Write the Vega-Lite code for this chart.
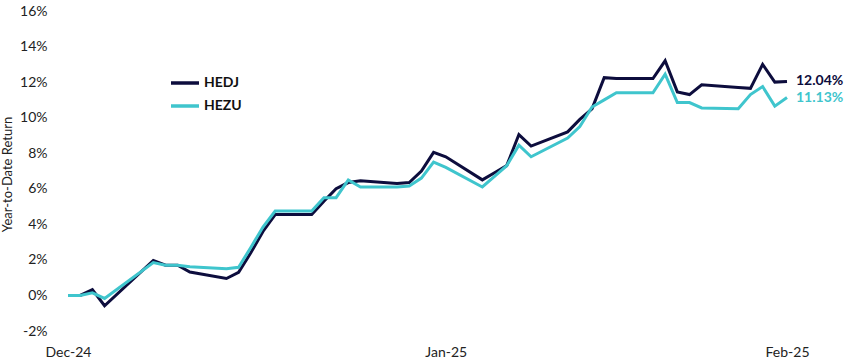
{
  "$schema": "https://vega.github.io/schema/vega-lite/v6.json",
  "width": 719,
  "height": 320,
  "autosize": {"type": "none"},
  "padding": {"left": 68, "top": 11, "right": 62, "bottom": 32},
  "background": "white",
  "config": {
    "view": {"stroke": null},
    "font": "Lato",
    "axis": {"labelFont": "Lato", "titleFont": "Lato", "labelColor": "#222222", "titleColor": "#222222"}
  },
  "data": {
    "values": [
      {"date": "2024-12-31T00:00", "fund": "HEDJ", "ret": 0.0},
      {"date": "2025-01-01T00:00", "fund": "HEDJ", "ret": 0.0},
      {"date": "2025-01-02T00:00", "fund": "HEDJ", "ret": 0.0033},
      {"date": "2025-01-03T00:00", "fund": "HEDJ", "ret": -0.0058},
      {"date": "2025-01-07T00:00", "fund": "HEDJ", "ret": 0.0197},
      {"date": "2025-01-08T00:00", "fund": "HEDJ", "ret": 0.0170},
      {"date": "2025-01-09T00:00", "fund": "HEDJ", "ret": 0.0170},
      {"date": "2025-01-10T00:00", "fund": "HEDJ", "ret": 0.0132},
      {"date": "2025-01-13T00:00", "fund": "HEDJ", "ret": 0.0095},
      {"date": "2025-01-14T00:00", "fund": "HEDJ", "ret": 0.0130},
      {"date": "2025-01-15T00:00", "fund": "HEDJ", "ret": 0.0240},
      {"date": "2025-01-16T00:00", "fund": "HEDJ", "ret": 0.0360},
      {"date": "2025-01-17T00:00", "fund": "HEDJ", "ret": 0.0455},
      {"date": "2025-01-20T00:00", "fund": "HEDJ", "ret": 0.0455},
      {"date": "2025-01-21T00:00", "fund": "HEDJ", "ret": 0.0530},
      {"date": "2025-01-22T00:00", "fund": "HEDJ", "ret": 0.0600},
      {"date": "2025-01-23T00:00", "fund": "HEDJ", "ret": 0.0635},
      {"date": "2025-01-24T00:00", "fund": "HEDJ", "ret": 0.0645},
      {"date": "2025-01-27T00:00", "fund": "HEDJ", "ret": 0.0630},
      {"date": "2025-01-28T00:00", "fund": "HEDJ", "ret": 0.0635},
      {"date": "2025-01-29T00:00", "fund": "HEDJ", "ret": 0.0700},
      {"date": "2025-01-30T00:00", "fund": "HEDJ", "ret": 0.0805},
      {"date": "2025-01-31T00:00", "fund": "HEDJ", "ret": 0.0780},
      {"date": "2025-02-03T00:00", "fund": "HEDJ", "ret": 0.0650},
      {"date": "2025-02-04T00:00", "fund": "HEDJ", "ret": 0.0690},
      {"date": "2025-02-05T00:00", "fund": "HEDJ", "ret": 0.0730},
      {"date": "2025-02-06T00:00", "fund": "HEDJ", "ret": 0.0905},
      {"date": "2025-02-07T00:00", "fund": "HEDJ", "ret": 0.0840},
      {"date": "2025-02-10T00:00", "fund": "HEDJ", "ret": 0.0920},
      {"date": "2025-02-11T00:00", "fund": "HEDJ", "ret": 0.0990},
      {"date": "2025-02-12T00:00", "fund": "HEDJ", "ret": 0.1050},
      {"date": "2025-02-13T00:00", "fund": "HEDJ", "ret": 0.1225},
      {"date": "2025-02-14T00:00", "fund": "HEDJ", "ret": 0.1220},
      {"date": "2025-02-17T00:00", "fund": "HEDJ", "ret": 0.1220},
      {"date": "2025-02-18T00:00", "fund": "HEDJ", "ret": 0.1320},
      {"date": "2025-02-19T00:00", "fund": "HEDJ", "ret": 0.1145},
      {"date": "2025-02-20T00:00", "fund": "HEDJ", "ret": 0.1130},
      {"date": "2025-02-21T00:00", "fund": "HEDJ", "ret": 0.1185},
      {"date": "2025-02-24T00:00", "fund": "HEDJ", "ret": 0.1170},
      {"date": "2025-02-25T00:00", "fund": "HEDJ", "ret": 0.1165},
      {"date": "2025-02-26T00:00", "fund": "HEDJ", "ret": 0.1300},
      {"date": "2025-02-27T00:00", "fund": "HEDJ", "ret": 0.1200},
      {"date": "2025-02-28T00:00", "fund": "HEDJ", "ret": 0.1204},
      {"date": "2024-12-31T00:00", "fund": "HEZU", "ret": 0.0},
      {"date": "2025-01-01T00:00", "fund": "HEZU", "ret": 0.0},
      {"date": "2025-01-02T00:00", "fund": "HEZU", "ret": 0.0015},
      {"date": "2025-01-03T00:00", "fund": "HEZU", "ret": -0.0017},
      {"date": "2025-01-07T00:00", "fund": "HEZU", "ret": 0.0185},
      {"date": "2025-01-08T00:00", "fund": "HEZU", "ret": 0.0170},
      {"date": "2025-01-09T00:00", "fund": "HEZU", "ret": 0.0170},
      {"date": "2025-01-10T00:00", "fund": "HEZU", "ret": 0.0162},
      {"date": "2025-01-13T00:00", "fund": "HEZU", "ret": 0.0150},
      {"date": "2025-01-14T00:00", "fund": "HEZU", "ret": 0.0158},
      {"date": "2025-01-15T00:00", "fund": "HEZU", "ret": 0.0270},
      {"date": "2025-01-16T00:00", "fund": "HEZU", "ret": 0.0385},
      {"date": "2025-01-17T00:00", "fund": "HEZU", "ret": 0.0475},
      {"date": "2025-01-20T00:00", "fund": "HEZU", "ret": 0.0475},
      {"date": "2025-01-21T00:00", "fund": "HEZU", "ret": 0.0550},
      {"date": "2025-01-22T00:00", "fund": "HEZU", "ret": 0.0550},
      {"date": "2025-01-23T00:00", "fund": "HEZU", "ret": 0.0650},
      {"date": "2025-01-24T00:00", "fund": "HEZU", "ret": 0.0610},
      {"date": "2025-01-27T00:00", "fund": "HEZU", "ret": 0.0610},
      {"date": "2025-01-28T00:00", "fund": "HEZU", "ret": 0.0615},
      {"date": "2025-01-29T00:00", "fund": "HEZU", "ret": 0.0660},
      {"date": "2025-01-30T00:00", "fund": "HEZU", "ret": 0.0750},
      {"date": "2025-01-31T00:00", "fund": "HEZU", "ret": 0.0720},
      {"date": "2025-02-03T00:00", "fund": "HEZU", "ret": 0.0610},
      {"date": "2025-02-04T00:00", "fund": "HEZU", "ret": 0.0670},
      {"date": "2025-02-05T00:00", "fund": "HEZU", "ret": 0.0730},
      {"date": "2025-02-06T00:00", "fund": "HEZU", "ret": 0.0845},
      {"date": "2025-02-07T00:00", "fund": "HEZU", "ret": 0.0780},
      {"date": "2025-02-10T00:00", "fund": "HEZU", "ret": 0.0885},
      {"date": "2025-02-11T00:00", "fund": "HEZU", "ret": 0.0950},
      {"date": "2025-02-12T00:00", "fund": "HEZU", "ret": 0.1060},
      {"date": "2025-02-13T00:00", "fund": "HEZU", "ret": 0.1100},
      {"date": "2025-02-14T00:00", "fund": "HEZU", "ret": 0.1140},
      {"date": "2025-02-17T00:00", "fund": "HEZU", "ret": 0.1140},
      {"date": "2025-02-18T00:00", "fund": "HEZU", "ret": 0.1245},
      {"date": "2025-02-19T00:00", "fund": "HEZU", "ret": 0.1085},
      {"date": "2025-02-20T00:00", "fund": "HEZU", "ret": 0.1085},
      {"date": "2025-02-21T00:00", "fund": "HEZU", "ret": 0.1055},
      {"date": "2025-02-24T00:00", "fund": "HEZU", "ret": 0.1050},
      {"date": "2025-02-25T00:00", "fund": "HEZU", "ret": 0.1130},
      {"date": "2025-02-26T00:00", "fund": "HEZU", "ret": 0.1175},
      {"date": "2025-02-27T00:00", "fund": "HEZU", "ret": 0.1065},
      {"date": "2025-02-28T00:00", "fund": "HEZU", "ret": 0.1113}
    ]
  },
  "encoding": {
    "x": {
      "field": "date",
      "type": "temporal",
      "scale": {"domain": [{"year": 2024, "month": 12, "date": 31}, {"year": 2025, "month": 2, "date": 28}]},
      "axis": {
        "title": null,
        "values": [{"year": 2024, "month": 12, "date": 31}, {"year": 2025, "month": 1, "date": 31}, {"year": 2025, "month": 2, "date": 28}],
        "format": "%b-%y",
        "domain": false,
        "ticks": false,
        "tickSize": 0,
        "grid": false,
        "labelFlush": false,
        "labelOverlap": false,
        "labelBound": false,
        "labelFontSize": 14,
        "labelPadding": 14,
        "labelBaseline": "top"
      }
    },
    "y": {
      "field": "ret",
      "type": "quantitative",
      "scale": {"domain": [-0.02, 0.16], "nice": false, "zero": false},
      "axis": {
        "title": "Year-to-Date Return",
        "values": [-0.02, 0, 0.02, 0.04, 0.06, 0.08, 0.1, 0.12, 0.14, 0.16],
        "labelExpr": "round(datum.value * 100) + '%'",
        "domain": false,
        "ticks": false,
        "tickSize": 0,
        "grid": false,
        "labelFontSize": 14,
        "labelPadding": 21,
        "labelBaseline": "middle",
        "titleFontSize": 13,
        "titleFontWeight": "normal",
        "titleAngle": 270,
        "titleBaseline": "middle",
        "titleAlign": "center",
        "titleX": -61,
        "titleY": 163
      }
    },
    "color": {
      "field": "fund",
      "type": "nominal",
      "scale": {"domain": ["HEDJ", "HEZU"], "range": ["#0d0d3d", "#3fc5cd"]},
      "legend": {
        "title": null,
        "orient": "none",
        "legendX": 101,
        "legendY": 56,
        "symbolType": "stroke",
        "symbolSize": 784,
        "symbolStrokeWidth": 3.5,
        "labelFontSize": 14,
        "labelFontWeight": "bold",
        "labelColor": "#111111",
        "labelOffset": 3,
        "rowPadding": -2
      }
    }
  },
  "layer": [
    {
      "mark": {"type": "line", "strokeWidth": 3, "strokeJoin": "miter", "interpolate": "linear"}
    },
    {
      "transform": [{"filter": {"field": "date", "timeUnit": "yearmonthdate", "equal": {"year": 2025, "month": 2, "date": 28}}}],
      "mark": {"type": "text", "align": "left", "baseline": "middle", "dx": 9, "fontSize": 14, "fontWeight": "bold", "font": "Lato"},
      "encoding": {
        "text": {"field": "ret", "type": "quantitative", "format": ".2%"}
      }
    }
  ]
}
